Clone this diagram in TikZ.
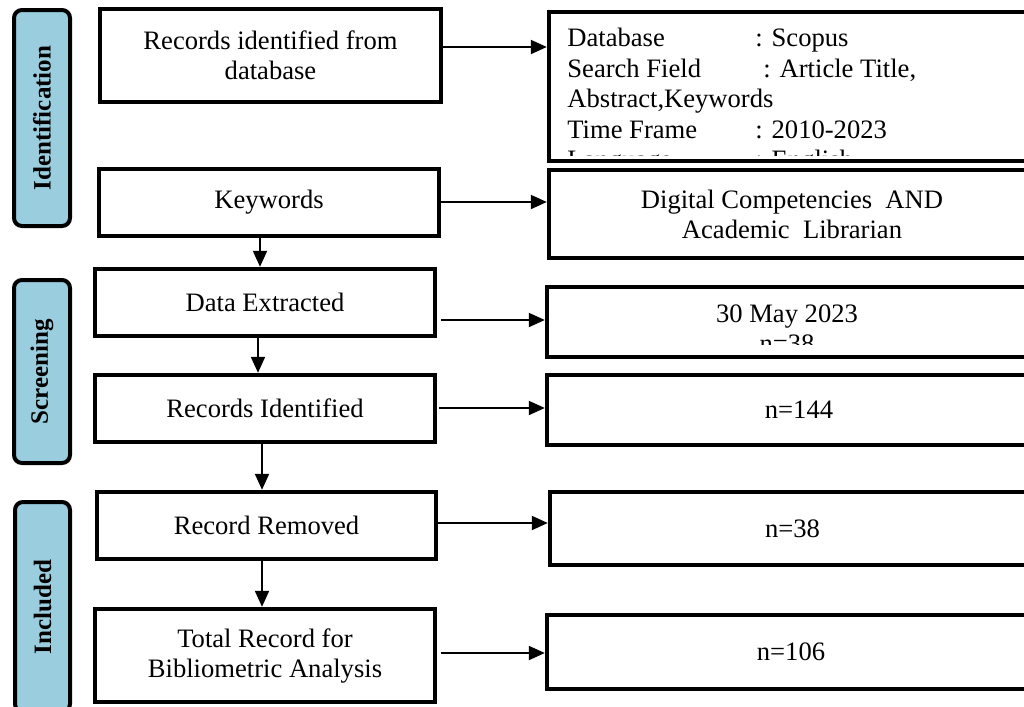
\documentclass[tikz,border=0pt]{standalone}
\usepackage{fontspec}
\setmainfont{Liberation Serif}
\usetikzlibrary{arrows.meta,fit,calc}
\definecolor{phaseblue}{RGB}{154,205,222}
\begin{document}
\begin{tikzpicture}[x=0.5pt,y=-0.5pt,
  txt/.style={font=\fontsize{13.3}{15}\selectfont},
  box/.style={draw, line width=2.2pt, inner sep=0pt, align=center, txt},
  phase/.style={draw, line width=2pt, rounded corners=4pt, fill=phaseblue, inner sep=0pt},
  phasetext/.style={rotate=90, inner sep=0pt, font=\fontsize{12.5}{15}\selectfont\bfseries},
  arr/.style={line width=1pt, -{Triangle[length=8pt,width=7pt]}}]
\useasboundingbox (0,0) rectangle (1024,707);
\begin{scope}
\clip (0,0) rectangle (1024,707);
% phase labels
\node[phase, fit={(14,10) (70,226)}] (p1) {};
\node[phasetext] (t1) at (p1.center) {Identification};
\node[phase, fit={(14,280) (70,463)}] (p2) {};
\node[phasetext] (t2) at (p2.center) {Screening};
\node[phase, fit={(15,502) (70,712)}] (p3) {};
\node[phasetext] (t3) at (p3.center) {Included};
% left column
\node[box, minimum width=170.5pt, minimum height=46.5pt] (b1) at (270.5,55.5) {Records identified from\\database};
\node[box, minimum width=170pt, minimum height=33.5pt] (b2) at (269,202.5) {Keywords};
\node[box, minimum width=170pt, minimum height=33.5pt] (b3) at (265,302.5) {Data Extracted};
\node[box, minimum width=170pt, minimum height=33.5pt] (b4) at (265,408.5) {Records Identified};
\node[box, minimum width=169.5pt, minimum height=33.5pt] (b5) at (266.5,525.5) {Record Removed};
\node[box, minimum width=170pt, minimum height=46.5pt] (b6) at (265,655.5) {Total Record for\\Bibliometric Analysis};
% right column
\node[box, minimum width=243pt, minimum height=74.5pt] (ra) at (792,86.5) {};
\node[box, minimum width=243pt, minimum height=44pt] (rb) at (792,214) {Digital Competencies\ \ AND\\Academic\ \ Librarian};
\node[box, minimum width=244pt, minimum height=35pt] (rc) at (791,322) {};
\node[box, minimum width=244pt, minimum height=35pt] (rd) at (791,410) {};
\node[txt, inner sep=0pt] (rdtext) at ([xshift=4pt]rd.center) {n=144};
\node[box, minimum width=242.5pt, minimum height=36.5pt] (re) at (792.5,528.5) {n=38};
\node[box, minimum width=244pt, minimum height=37pt] (rf) at (791,652) {n=106};
\begin{scope}
\clip (552,15) rectangle (1030,155);
\node[txt, anchor=north west, align=left, inner sep=0pt, font=\fontsize{13.3}{15.25}\selectfont] (ratext) at (567,28)
 {\makebox[94pt][l]{Database}: Scopus\\
  \makebox[98pt][l]{Search Field}: Article Title,\\
  Abstract,Keywords\\
  \makebox[94pt][l]{Time Frame}: 2010-2023\\
  \makebox[94pt][l]{Language}: English};
\end{scope}
\begin{scope}
\clip (552,290) rectangle (1030,344);
\node[txt, align=center, inner sep=0pt] (rctext) at (787,329) {30 May 2023\\n=38};
\end{scope}
% horizontal arrows
\draw[arr] (b1.east |- 0,47) -- (ra.west |- 0,47);
\draw[arr] (b2.east |- 0,202) -- (rb.west |- 0,202);
\draw[arr] ([xshift=2pt]b3.east |- 0,320) -- (rc.west |- 0,320);
\draw[arr] ([xshift=1pt]b4.east |- 0,408) -- (rd.west |- 0,408);
\draw[arr] (b5.east |- 0,523) -- (re.west |- 0,523);
\draw[arr] ([xshift=2pt]b6.east |- 0,653) -- (rf.west |- 0,653);
% vertical arrows
\draw[arr] (b2.south -| 260,0) -- (b3.north -| 260,0);
\draw[arr] (b3.south -| 258,0) -- (b4.north -| 258,0);
\draw[arr] (b4.south -| 262,0) -- (b5.north -| 262,0);
\draw[arr] (b5.south -| 262,0) -- (b6.north -| 262,0);
\end{scope}
\end{tikzpicture}
\end{document}
